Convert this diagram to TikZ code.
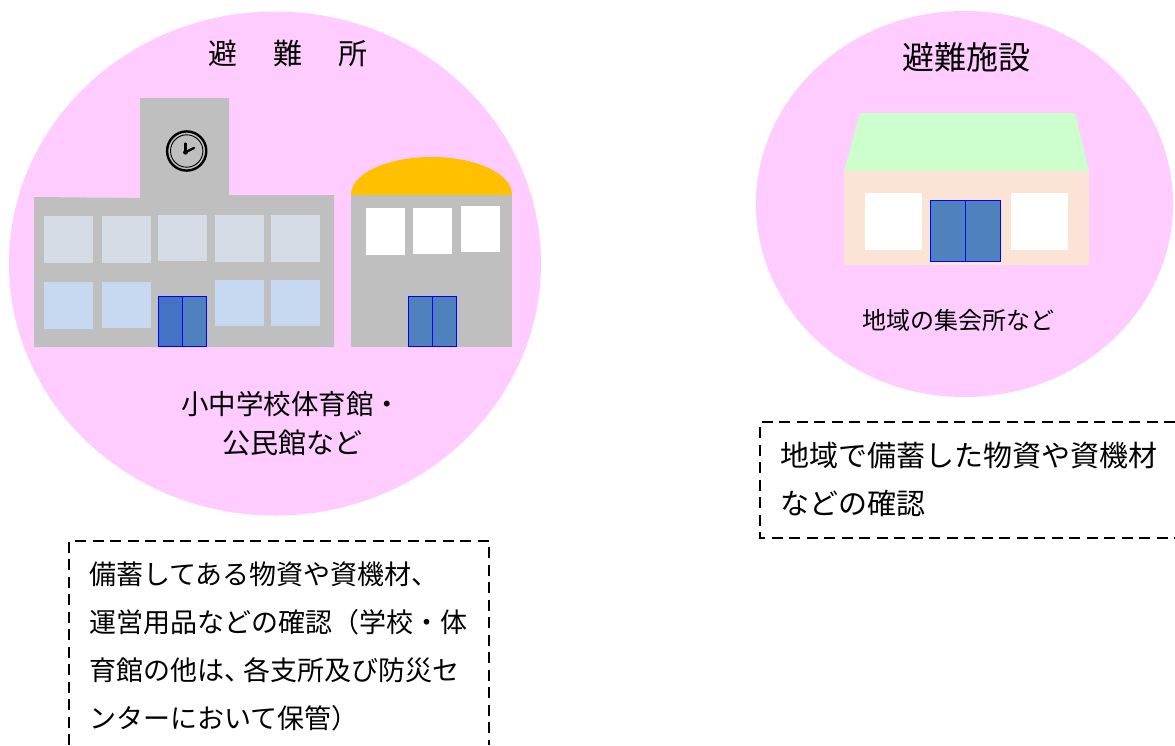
\documentclass[tikz,border=0pt]{standalone}
\usepackage{fontspec}
\setmainfont{Noto Sans CJK JP}[Scale=1]
\tikzset{
  px/.style={x=1pt,y=-1pt},
  disc/.style={fill=pinkbg,draw=none},
  wall/.style={fill=wallgrey,draw=none},
  upperwin/.style={fill=winupper,draw=none},
  lowerwin/.style={fill=winlower,draw=none},
  whitewin/.style={fill=white,draw=none},
  doorleaf/.style={fill=doorblue,draw=doorline,line width=1pt},
  dashbox/.style={draw=black,line width=2.6pt,dash pattern=on 11pt off 6.5pt},
  label/.style={inner sep=0pt,outer sep=0pt,text=black,anchor=center},
  blocktext/.style={label,anchor=north west,align=left}
}
\definecolor{pinkbg}{HTML}{FFCCFF}
\definecolor{wallgrey}{HTML}{BFBFBF}
\definecolor{winupper}{HTML}{D6DCE5}
\definecolor{winlower}{HTML}{C6D9F1}
\definecolor{doorblue}{HTML}{4F81BD}
\definecolor{doorleft}{HTML}{4472C4}
\definecolor{doorline}{HTML}{0000FF}
\definecolor{dome}{HTML}{FFC000}
\definecolor{roofgreen}{HTML}{CCFFCC}
\definecolor{wallpeach}{HTML}{FBE4D5}
\begin{document}
\begin{tikzpicture}[px]
\useasboundingbox (0,0) rectangle (1175,745);
% discs
\fill[disc] (275,263.5) ellipse [x radius=266,y radius=252];
\fill[disc] (964.5,204) ellipse [x radius=208.5,y radius=193];
% school
\fill[wall] (34,197) -- (140,198) -- (140,98) -- (229,98) -- (229,195) -- (334,195) -- (334,347) -- (34,347) -- cycle;
\foreach \a/\b/\c/\d in {44/216/93/263,102/216/151/263,158/215/207/261,215/215/264/262,271/215/320/262}
  \fill[upperwin] (\a,\b) rectangle (\c,\d);
\foreach \a/\b/\c/\d in {44/282/93/329,102/282/151/328,215/280/264/326,271/280/320/326}
  \fill[lowerwin] (\a,\b) rectangle (\c,\d);
\draw[doorleaf,fill=doorleft] (158,296.5) rectangle (182,346);
\draw[doorleaf] (182,296.5) rectangle (206,346);
% clock
\draw[black,line width=2.4pt] (186.7,151) circle (19.6);
\draw[black,line width=0.9pt] (186.7,151) circle (16.2);
\draw[black,line width=2.3pt,line cap=round] (185.5,152.3) -- (185.5,143.5);
\draw[black,line width=2.3pt,line cap=round] (185.5,152.3) -- (194,148);
\fill[black] (185.5,152.3) circle (2.4);
% hall
\fill[dome] (351,195) .. controls (351,172) and (390,157) .. (431.5,157) .. controls (473,157) and (512,172) .. (512,195) -- cycle;
\fill[wall] (351,195) rectangle (512,347);
\foreach \a/\b/\c/\d in {366/208/405/255,413/208/452/254,461/206/500/252}
  \fill[whitewin] (\a,\b) rectangle (\c,\d);
\draw[doorleaf] (408,296.5) rectangle (432,346);
\draw[doorleaf] (432,296.5) rectangle (456,346);
% house
\fill[roofgreen] (844,171) -- (860,113) -- (1075,113) -- (1089,171) -- cycle;
\fill[wallpeach] (844,171) rectangle (1089,265);
\fill[whitewin] (865,193) rectangle (922,250);
\fill[whitewin] (1011,193) rectangle (1068,250);
\draw[doorleaf] (930,200.5) rectangle (965,261.5);
\draw[doorleaf] (965,200.5) rectangle (1000,261.5);
% dashed boxes
\draw[dashbox] (69,745) -- (69,541) -- (489,541) -- (489,745);
\draw[dashbox] (1175,422) -- (760,422) -- (760,538) -- (1175,538);
% texts
\node[label,font=\fontsize{29}{34}\selectfont] (t1) at (288,54) {避\hspace{36pt}難\hspace{36pt}所};
\node[label,font=\fontsize{32}{38}\selectfont] (t2) at (966,57) {避難施設};
\node[label,font=\fontsize{27.5}{32}\selectfont] (t3) at (291,404) {小中学校体育館・};
\node[label,font=\fontsize{28}{33}\selectfont] (t4) at (292,443) {公民館など};
\node[label,font=\fontsize{24}{29}\selectfont] (t5) at (958,320) {地域の集会所など};
\node[blocktext,font=\fontsize{27}{48}\selectfont] (t6) at (89,562) {備蓄してある物資や資機材、\\運営用品などの確認（学校・体\\育館の他は、\hspace{-8pt}各支所及び防災セ\\ンターにおいて保管）};
\node[blocktext,font=\fontsize{29}{48}\selectfont] (t7) at (780,442) {地域で備蓄した物資や資機材\\などの確認};
\end{tikzpicture}
\end{document}
